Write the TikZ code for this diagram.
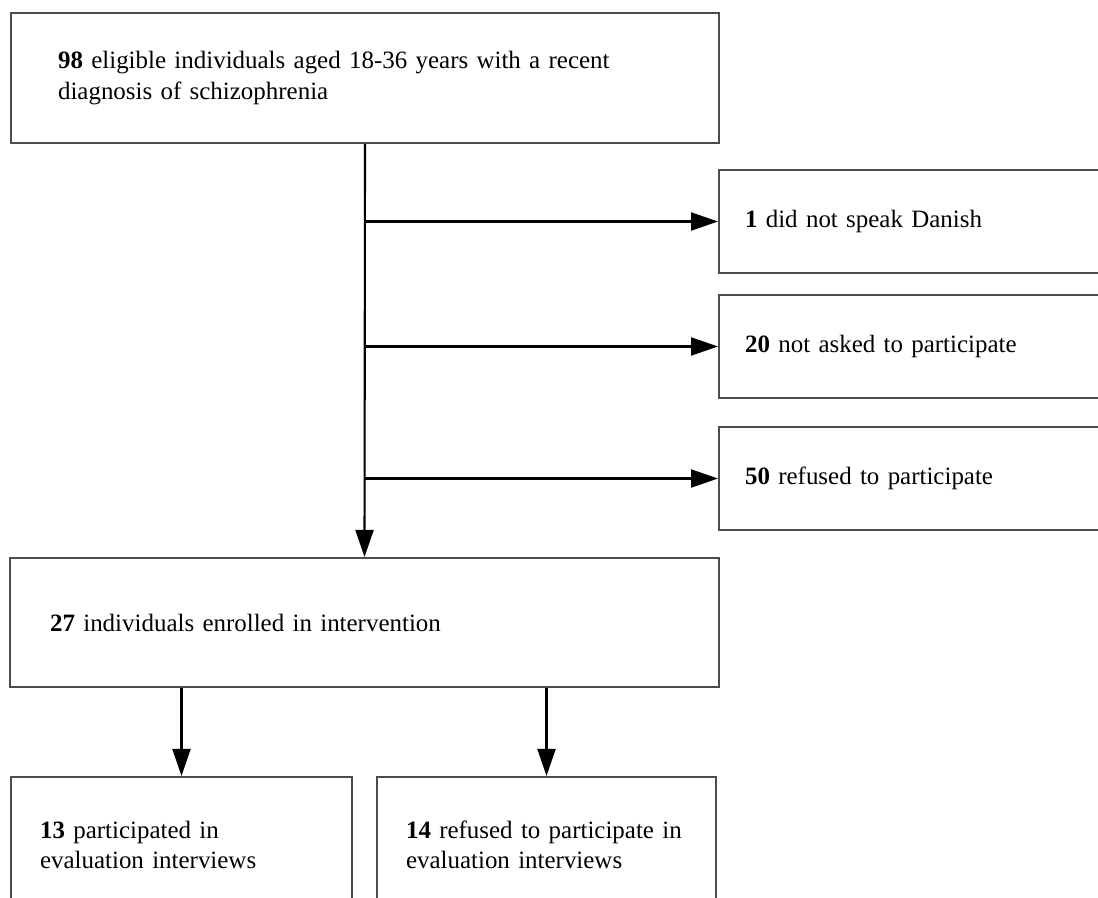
\documentclass[tikz,border=0pt]{standalone}
\usepackage{fontspec}
\setmainfont{Liberation Serif}
\usetikzlibrary{arrows.meta}
\tikzset{
  box/.style={draw=black!70, line width=1.2pt, rectangle, align=left, inner ysep=0pt,
    font=\fontsize{14.2}{17.4}\selectfont},
  flow/.style={line width=1.2pt, -{Triangle[length=0.54cm, width=0.36cm]}}
}
\begin{document}
\begin{tikzpicture}[x=0.02cm, y=-0.02cm]
\clip (0, 0) rectangle (1098, 898);
\fill [white] (0, 0) rectangle (1098, 898);
\node [box, text width=12.28cm, inner xsep=0.94cm, minimum height=2.6cm] (elig) at (365, 78)
  {\textbf{98} eligible individuals aged 18-36 years with a recent\\diagnosis of schizophrenia};
\node [box, text width=6.96cm, inner xsep=0.52cm, minimum height=2.06cm] (danish) at (919, 221.5)
  {\textbf{1} did not speak Danish};
\node [box, text width=6.96cm, inner xsep=0.52cm, minimum height=2.06cm] (notasked) at (919, 346.5)
  {\textbf{20} not asked to participate};
\node [box, text width=6.96cm, inner xsep=0.52cm, minimum height=2.06cm] (refused) at (919, 478.5)
  {\textbf{50} refused to participate};
\node [box, text width=12.58cm, inner xsep=0.8cm, minimum height=2.58cm] (enrolled) at (364.5, 622.5)
  {\textbf{27} individuals enrolled in intervention};
\node [box, text width=5.66cm, inner xsep=0.58cm, minimum height=2.72cm] (particip) at (181.5, 845)
  {\textbf{13} participated in\\evaluation interviews};
\node [box, text width=5.62cm, inner xsep=0.58cm, minimum height=2.72cm] (declined) at (546.5, 845)
  {\textbf{14} refused to participate in\\evaluation interviews};
\draw [flow] (elig.south) -- (enrolled.north);
\draw [flow] (elig.south |- danish.west) -- (danish.west);
\draw [flow] (elig.south |- notasked.west) -- (notasked.west);
\draw [flow] (elig.south |- refused.west) -- (refused.west);
\draw [flow] (particip.north |- enrolled.south) -- (particip.north);
\draw [flow] (declined.north |- enrolled.south) -- (declined.north);
\end{tikzpicture}
\end{document}
